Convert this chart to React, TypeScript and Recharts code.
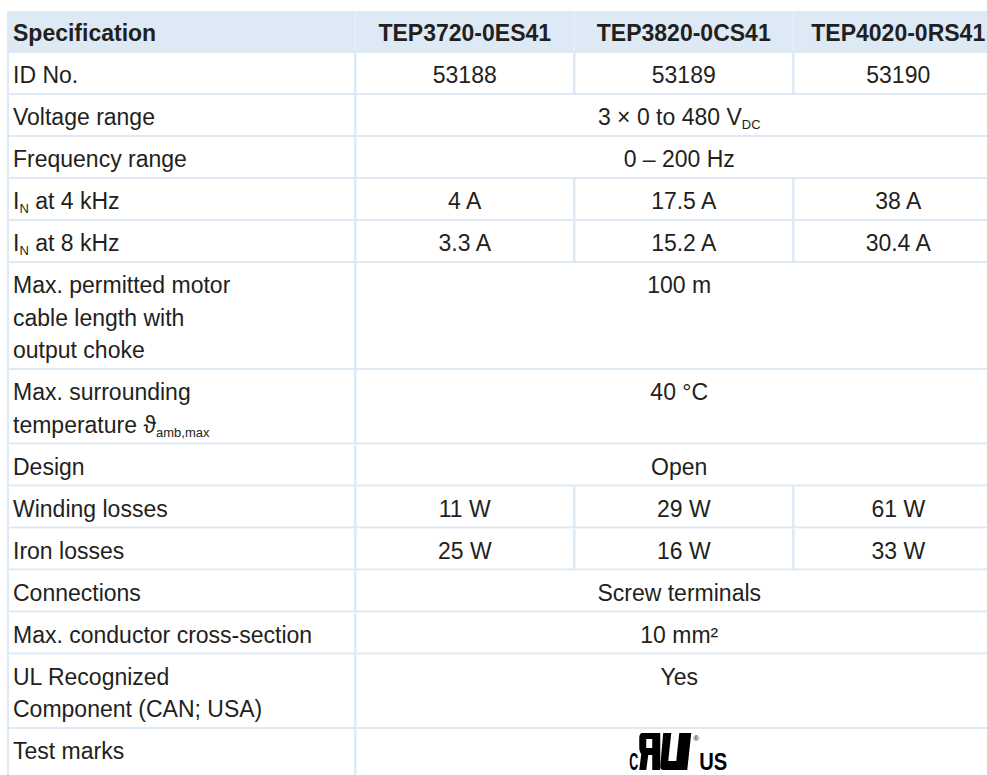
import React from 'react';
import { ComposedChart, XAxis, YAxis, ReferenceArea } from 'recharts';

const FONT = '"Liberation Sans", Arial, Helvetica, sans-serif';
const INK = '#231f20';
const RULE = '#dde9f5';

// table content
const specTitle = 'Specification';
const models = ['TEP3720-0ES41', 'TEP3820-0CS41', 'TEP4020-0RS41'];
const specLabels = [
  'ID No.',
  'Voltage range',
  'Frequency range',
  'I_{N} at 4 kHz',
  'I_{N} at 8 kHz',
  'Max. permitted motor\ncable length with\noutput choke',
  'Max. surrounding\ntemperature ϑ_{amb,max}',
  'Design',
  'Winding losses',
  'Iron losses',
  'Connections',
  'Max. conductor cross-section',
  'UL Recognized\nComponent (CAN; USA)',
  'Test marks',
];
const idNumbers = ['53188', '53189', '53190'];
const currentAt4kHz = ['4 A', '17.5 A', '38 A'];
const currentAt8kHz = ['3.3 A', '15.2 A', '30.4 A'];
const windingLosses = ['11 W', '29 W', '61 W'];
const ironLosses = ['25 W', '16 W', '33 W'];
const voltageRange = '3 × 0 to 480 V_{DC}';
const frequencyRange = '0 – 200 Hz';
const cableLength = '100 m';
const ambientTemp = '40 °C';
const design = 'Open';
const connections = 'Screw terminals';
const crossSection = '10 mm²';
const ulRecognized = 'Yes';
const TEST_MARK = 'cULus';

const specValues: (string | string[])[] = [
  idNumbers, voltageRange, frequencyRange, currentAt4kHz, currentAt8kHz,
  cableLength, ambientTemp, design, windingLosses, ironLosses,
  connections, crossSection, ulRecognized, TEST_MARK,
];

// layout
const COL_WIDTHS = [347, 219, 219, 210];
const ROW_BASE = 42;
const LINE_STEP = 32.5;
const FONT_SIZE = 23;
const SUB_SIZE = 13;
const SUB_DY = 4;

const colEdges = COL_WIDTHS.reduce((acc, w) => [...acc, acc[acc.length - 1] + w], [0]);
const rowLines = [
  1,
  ...specLabels.map((l, i) => Math.max(l.split('\n').length, specValues[i] === TEST_MARK ? 2 : 1)),
];
const rowEdges = rowLines.reduce(
  (acc, n) => [...acc, acc[acc.length - 1] + ROW_BASE + LINE_STEP * (n - 1)],
  [0]
);
const TABLE_W = colEdges[colEdges.length - 1];
const TABLE_H = rowEdges[rowEdges.length - 1];
const MARGIN = { top: 11, left: 7, right: 0, bottom: 0 };

type Cell = {
  key: string;
  row: number;
  c0: number;
  c1: number;
  text: string;
  header: boolean;
  align: 'start' | 'middle';
};

const cells: Cell[] = [];
cells.push({ key: 'h0', row: 0, c0: 0, c1: 1, text: specTitle, header: true, align: 'start' });
models.forEach((m, i) =>
  cells.push({ key: `h${i + 1}`, row: 0, c0: i + 1, c1: i + 2, text: m, header: true, align: 'middle' })
);
specLabels.forEach((label, i) => {
  const row = i + 1;
  cells.push({ key: `l${row}`, row, c0: 0, c1: 1, text: label, header: false, align: 'start' });
  const v = specValues[i];
  if (Array.isArray(v)) {
    v.forEach((t, j) =>
      cells.push({ key: `v${row}-${j}`, row, c0: j + 1, c1: j + 2, text: t, header: false, align: 'middle' })
    );
  } else {
    cells.push({ key: `v${row}`, row, c0: 1, c1: 4, text: v, header: false, align: 'middle' });
  }
});

function RichText({ x, y, text, anchor, bold }: { x: number; y: number; text: string; anchor: string; bold?: boolean }) {
  const parts = text.split(/_\{([^}]*)\}/);
  const spans: React.ReactNode[] = [];
  let lowered = false;
  parts.forEach((p, i) => {
    if (!p) return;
    const isSub = i % 2 === 1;
    let dy = 0;
    if (isSub && !lowered) {
      dy = SUB_DY;
      lowered = true;
    } else if (!isSub && lowered) {
      dy = -SUB_DY;
      lowered = false;
    }
    spans.push(
      <tspan key={i} dy={dy || undefined} fontSize={isSub ? SUB_SIZE : undefined}>
        {p}
      </tspan>
    );
  });
  return (
    <text
      x={x}
      y={y}
      textAnchor={anchor}
      fontFamily={FONT}
      fontSize={FONT_SIZE}
      fontWeight={bold ? 700 : 400}
      fill={INK}
    >
      {spans}
    </text>
  );
}

function UlMark({ cx, top }: { cx: number; top: number }) {
  const ink = '#000';
  return (
    <g transform={`translate(${cx - 50},${top})`}>
      <text x={0} y={37} fontFamily={FONT} fontSize={23} fontWeight={700} fill={ink} textLength={9} lengthAdjust="spacingAndGlyphs">
        C
      </text>
      <g transform="translate(10,0)">
        <path d="M3 0 L21 0 L21 37 L13 37 L13 22 L9 22 L7 37 L0 37 L2 21 C0 19 0 16 0 12 L0 5 C0 2 1 0 3 0 Z" fill={ink} />
        <rect x={7} y={6} width={6} height={9} fill="#fff" />
        <path d="M24 0 L32 0 L29 28 L37 28 L40 0 L52 0 L48 37 L24 37 C22 37 21 35 21 33 Z" fill={ink} />
      </g>
      <text x={64} y={8} fontFamily={FONT} fontSize={8} fill={ink}>
        ®
      </text>
      <text x={70} y={37} fontFamily={FONT} fontSize={23} fontWeight={700} fill={ink} textLength={28} lengthAdjust="spacingAndGlyphs">
        US
      </text>
    </g>
  );
}

const renderCell = (cell: Cell) => (props: any) => {
  const { x, y, width, height } = props;
  const gapL = cell.c0 === 0 ? 2 : 2.5;
  const innerX = x + gapL;
  const innerW = width - gapL;
  const tx = cell.align === 'start' ? x + 6 : innerX + innerW / 2;
  const lines = cell.text.split('\n');
  return (
    <g>
      <rect x={x} y={y} width={width} height={height} fill={RULE} />
      {cell.header ? (
        cell.c0 > 0 && <rect x={x + 0.5} y={y} width={1.5} height={height - 2} fill="#e6eff9" />
      ) : (
        <rect x={innerX} y={y} width={innerW} height={height - 2} fill="#fff" />
      )}
      {cell.text === TEST_MARK ? (
        <UlMark cx={tx} top={y + 4} />
      ) : (
        lines.map((line, i) => (
          <RichText key={i} x={tx} y={y + 30 + i * LINE_STEP} text={line} anchor={cell.align} bold={cell.header} />
        ))
      )}
    </g>
  );
};

export default function App() {
  return (
    <div
      style={{
        position: 'fixed',
        top: 0,
        left: 0,
        width: 987,
        height: 775,
        overflow: 'hidden',
        background: '#fff',
      }}
    >
      <ComposedChart
        width={MARGIN.left + TABLE_W}
        height={MARGIN.top + TABLE_H}
        data={[{ x: 0, y: 0 }, { x: TABLE_W, y: TABLE_H }]}
        margin={MARGIN}
      >
        <XAxis type="number" dataKey="x" domain={[0, TABLE_W]} allowDataOverflow hide />
        <YAxis type="number" dataKey="y" domain={[0, TABLE_H]} allowDataOverflow reversed hide />
        {cells.map((cell) => (
          <ReferenceArea
            key={cell.key}
            x1={colEdges[cell.c0]}
            x2={colEdges[cell.c1]}
            y1={rowEdges[cell.row]}
            y2={rowEdges[cell.row + 1]}
            ifOverflow="visible"
            shape={renderCell(cell)}
          />
        ))}
      </ComposedChart>
    </div>
  );
}
